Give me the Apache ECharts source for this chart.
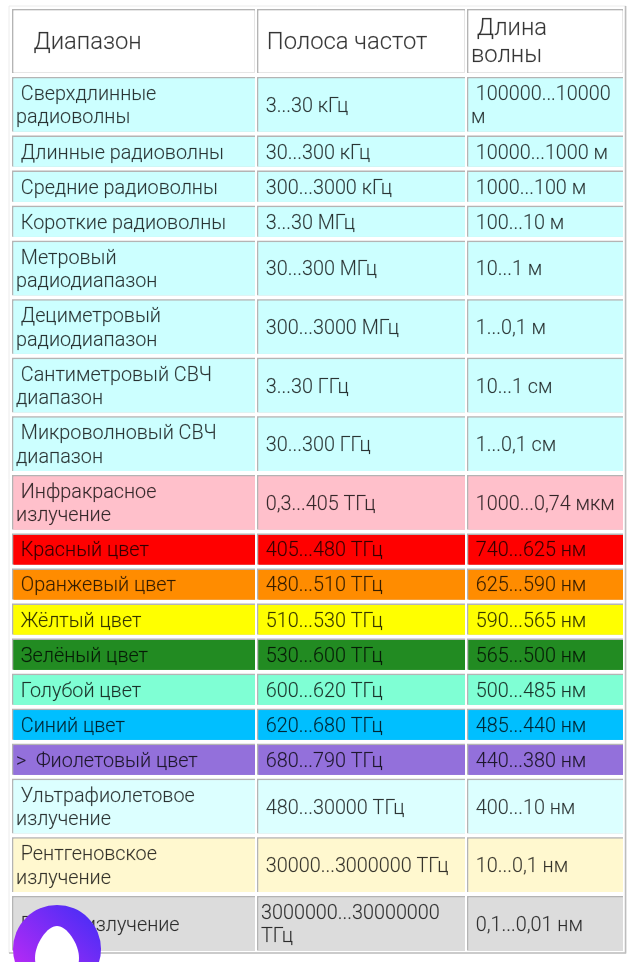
<!DOCTYPE html>
<html>
<head>
<meta charset="utf-8">
<title>Диапазоны</title>
<style>
html, body { margin: 0; padding: 0; background: #fff; overflow: hidden; }
#main { width: 640px; height: 962px; }
</style>
<script src="https://cdn.jsdelivr.net/npm/echarts@6/dist/echarts.min.js"></script>
</head>
<body>
<div id="main"></div>
<script>
var headers = ["   Диапазон", " Полоса частот", " Длина\nволны"];
var bands = [
	" Сверхдлинные\nрадиоволны", " Длинные радиоволны", " Средние радиоволны", " Короткие радиоволны",
	" Метровый\nрадиодиапазон", " Дециметровый\nрадиодиапазон", " Сантиметровый СВЧ\nдиапазон", " Микроволновый СВЧ\nдиапазон",
	" Инфракрасное\nизлучение", " Красный цвет", " Оранжевый цвет", " Жёлтый цвет", " Зелёный цвет", " Голубой цвет", " Синий цвет",
	">  Фиолетовый цвет", " Ультрафиолетовое\nизлучение", " Рентгеновское\nизлучение", " Гамма излучение"
];
var frequencies = [
	" 3...30 кГц", " 30...300 кГц", " 300...3000 кГц", " 3...30 МГц",
	" 30...300 МГц", " 300...3000 МГц", " 3...30 ГГц", " 30...300 ГГц",
	" 0,3...405 ТГц", " 405...480 ТГц", " 480...510 ТГц", " 510...530 ТГц", " 530...600 ТГц", " 600...620 ТГц", " 620...680 ТГц",
	" 680...790 ТГц", " 480...30000 ТГц", " 30000...3000000 ТГц", "3000000...30000000\nТГц"
];
var wavelengths = [
	" 100000...10000\nм", " 10000...1000 м", " 1000...100 м", " 100...10 м",
	" 10...1 м", " 1...0,1 м", " 10...1 см", " 1...0,1 см",
	" 1000...0,74 мкм", " 740...625 нм", " 625...590 нм", " 590...565 нм", " 565...500 нм", " 500...485 нм", " 485...440 нм",
	" 440...380 нм", " 400...10 нм", " 10...0,1 нм", " 0,1...0,01 нм"
];
var rowColors = [
	"#ccffff", "#ccffff", "#ccffff", "#ccffff", "#ccffff", "#ccffff", "#ccffff", "#ccffff",
	"#ffc0cb", "#ff0000", "#ff8c00", "#ffff00", "#228b22", "#7fffd4", "#00bfff", "#9370db",
	"#dcffff", "#fff8cf", "#dcdcdc"
];
// rows that take two lines
var twoLine = [0, 4, 5, 6, 7, 8, 16, 17, 18];

// table layout, same units as the axes
var colEdges = [[12, 255], [257, 465], [467, 623]];
var headerTop = 9, headerPitch = 68, lineStep = 23.5, rowPad = 11.55, gap = 4;
var textFont = "Roboto";

var rows = [];
var rowTop = headerTop;
rows.push({ top: rowTop, bottom: rowTop + headerPitch - gap, cells: headers, fill: "#ffffff", size: 23.8, lh: 27, dy: 2, header: true });
rowTop += headerPitch;
bands.forEach(function (b, i) {
	var pitch = (twoLine.indexOf(i) >= 0 ? 2 : 1) * lineStep + rowPad;
	rows.push({ top: rowTop, bottom: rowTop + pitch - gap, cells: [b, frequencies[i], wavelengths[i]], fill: rowColors[i], size: 19.8, lh: lineStep, dy: 2.5 });
	rowTop += pitch;
});

var cellData = [];
rows.forEach(function (r, ri) {
	r.cells.forEach(function (c, ci) { cellData.push([ri, ci]); });
});

function renderCell(params, api) {
	var r = rows[api.value(0)];
	var ci = api.value(1);
	var col = colEdges[ci];
	var p0 = api.coord([col[0], r.top]);
	var p1 = api.coord([col[1], r.bottom]);
	var w = p1[0] - p0[0], h = p1[1] - p0[1];
	var kids = [
		{ type: "rect", shape: { x: p0[0], y: p0[1], width: w, height: h }, style: { fill: "#b4b4b4" } },
		{ type: "rect", shape: { x: p0[0] + 1.5, y: p0[1] + 1.5, width: w - 1.5, height: h - 1.5 }, style: { fill: r.header ? "#e6e6e6" : r.fill } },
		{ type: "rect", shape: { x: p0[0] + 1.5, y: p0[1] + 1.5, width: w - (r.header ? 2.5 : 1.5), height: h - (r.header ? 2.5 : 1.5) }, style: { fill: r.fill } }
	];
	var lines = r.cells[ci].split("\n");
	var cy = (p0[1] + p1[1]) / 2 + r.dy - (lines.length - 1) * r.lh / 2;
	lines.forEach(function (t, li) {
		kids.push({
			type: "text",
			style: {
				x: p0[0] + 4, y: cy + li * r.lh, text: t,
				fill: "rgba(0,0,0,0.78)", font: "300 " + r.size + "px " + textFont,
				textAlign: "left", textVerticalAlign: "middle",
				stroke: "rgba(0,0,0,0.25)", lineWidth: 0.3
			}
		});
	});
	return { type: "group", children: kids };
}

// assistant button over the last row
function renderButton(params, api) {
	return {
		type: "group",
		children: [
			{
				type: "circle", shape: { cx: 57, cy: 949, r: 44 },
				style: { fill: new echarts.graphic.LinearGradient(0.85, 0.1, 0.1, 0.9, [{ offset: 0, color: "#4f2df6" }, { offset: 1, color: "#c02af5" }]) }
			},
			{
				type: "path",
				shape: { pathData: "M57 926 C67 926 79 944 79 958 C79 972 68 980 57 980 C46 980 35 972 35 958 C35 944 47 926 57 926 Z" },
				style: { fill: "#ffffff" }
			}
		]
	};
}

var chart = echarts.init(document.getElementById("main"));
chart.setOption({
	animation: false,
	backgroundColor: "#ffffff",
	grid: { left: 0, right: 0, top: 0, bottom: 0 },
	xAxis: { type: "value", min: 0, max: 640, show: false },
	yAxis: { type: "value", min: 0, max: 962, inverse: true, show: false },
	series: [{
		type: "custom",
		coordinateSystem: "cartesian2d",
		data: cellData,
		encode: { x: 1, y: 0 },
		clip: false,
		silent: true,
		renderItem: renderCell,
		z: 5
	}, {
		type: "custom",
		coordinateSystem: "cartesian2d",
		data: [[0, 0]],
		clip: false,
		silent: true,
		renderItem: renderButton,
		z: 50
	}],
	graphic: [
		// table frame
		{ type: "rect", z: 0, silent: true, shape: { x: 9, y: 6, width: 617, height: 947 }, style: { fill: "#fff", stroke: "#ececec", lineWidth: 1 } },
		{ type: "polyline", z: 1, silent: true, shape: { points: [[625.5, 6], [625.5, 953], [9, 953]] }, style: { stroke: "#bdbdbd", lineWidth: 1.5, fill: null } }
	]
});
</script>
</body>
</html>
